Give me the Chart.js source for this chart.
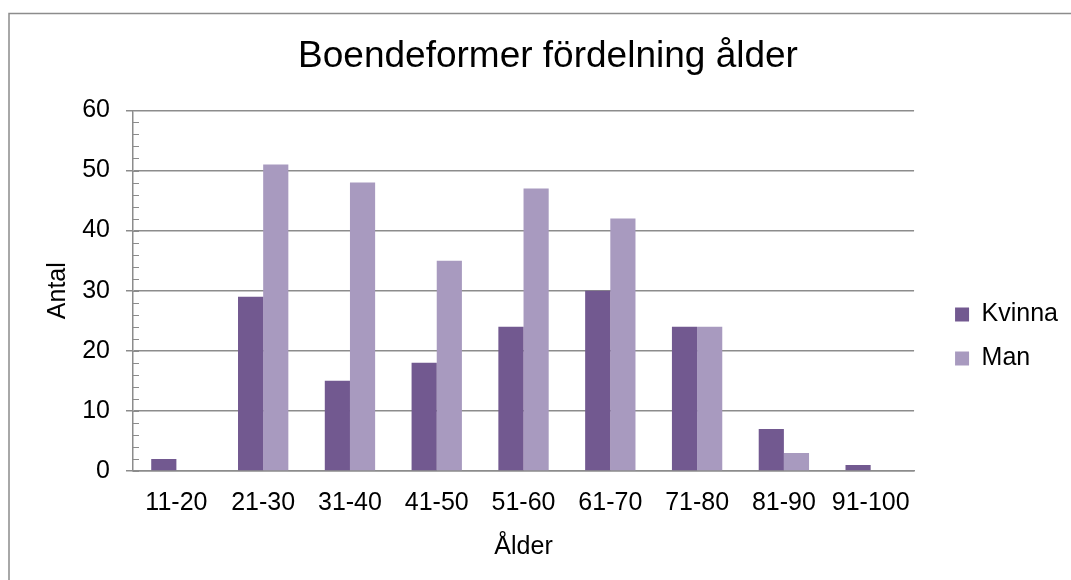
<!DOCTYPE html>
<html>
<head>
<meta charset="utf-8">
<script src="https://cdn.jsdelivr.net/npm/chart.js@4"></script>
<style>
  body { margin: 0; background: #fff; }
  canvas { display: block; }
</style>
</head>
<body>
<canvas id="chart" width="1071" height="580"></canvas>
<script>
// Chart data
const categories = ['11-20', '21-30', '31-40', '41-50', '51-60', '61-70', '71-80', '81-90', '91-100'];
const kvinna = [2, 29, 15, 18, 24, 30, 24, 7, 1];
const man = [0, 51, 48, 35, 47, 42, 24, 3, 0];

const FONT = "'Liberation Sans', Arial, sans-serif";

// outer frame like the Excel chart area
const framePlugin = {
  id: 'frame',
  beforeDraw(chart) {
    const c = chart.ctx;
    c.save();
    c.strokeStyle = '#8c8c8c';
    c.lineWidth = 1.5;
    c.strokeRect(9, 13.5, 1070, 600);
    c.restore();
  }
};

// minor tick marks on the value axis, every 2 units
const minorTicks = {
  id: 'minorTicks',
  afterDatasetsDraw(chart) {
    const y = chart.scales.y;
    const c = chart.ctx;
    const x0 = chart.chartArea.left;
    c.save();
    c.strokeStyle = '#8c8c8c';
    c.lineWidth = 1;
    for (let v = y.min; v <= y.max; v += 2) {
      const py = Math.round(y.getPixelForValue(v)) + 0.5;
      c.beginPath();
      c.moveTo(x0, py);
      c.lineTo(x0 + 6, py);
      c.stroke();
    }
    c.restore();
  }
};

// nudge legend and title to where Excel put them
const boxShift = {
  id: 'boxShift',
  afterLayout(chart) {
    const lg = chart.legend;
    lg.top += 29;
    lg.bottom += 29;
    lg.left += 22;
    lg.right += 22;
    const t = chart.titleBlock;
    t.left += 25;
    t.right += 25;
  }
};

new Chart(document.getElementById('chart'), {
  type: 'bar',
  data: {
    labels: categories,
    datasets: [
      {
        label: 'Kvinna',
        data: kvinna,
        backgroundColor: '#725990',
        categoryPercentage: 0.58,
        barPercentage: 1.0,
      },
      {
        label: 'Man',
        data: man,
        backgroundColor: '#a89abf',
        categoryPercentage: 0.58,
        barPercentage: 1.0,
      },
    ],
  },
  options: {
    responsive: false,
    animation: false,
    devicePixelRatio: 1,
    layout: {
      padding: { top: 35, left: 0, right: 25, bottom: 0 },
    },
    plugins: {
      title: {
        display: true,
        text: 'Boendeformer fördelning ålder',
        color: '#000',
        font: { family: FONT, size: 37, weight: 'normal' },
        padding: { top: 0, bottom: 31 },
      },
      legend: {
        position: 'right',
        labels: {
          color: '#000',
          font: { family: FONT, size: 25 },
          boxWidth: 14,
          boxHeight: 14,
          padding: 19,
        },
      },
      tooltip: { enabled: false },
    },
    scales: {
      x: {
        afterFit(scale) { scale.height = 109; },
        grid: { display: false, drawTicks: false },
        border: { color: '#8c8c8c', width: 1.5 },
        ticks: { color: '#000', font: { family: FONT, size: 25 }, padding: 17 },
        title: {
          display: true,
          text: 'Ålder',
          color: '#000',
          font: { family: FONT, size: 25 },
          padding: { top: 0, bottom: 18 },
        },
      },
      y: {
        afterFit(scale) { scale.width = 133; },
        min: 0,
        max: 60,
        ticks: { stepSize: 10, color: '#000', font: { family: FONT, size: 25 }, padding: 16 },
        grid: { color: '#8c8c8c', lineWidth: 1.5, tickLength: 7 },
        border: { color: '#8c8c8c', width: 1.5 },
        title: {
          display: true,
          text: 'Antal',
          color: '#000',
          font: { family: FONT, size: 25 },
          padding: { top: 43, bottom: 0 },
        },
      },
    },
  },
  plugins: [framePlugin, minorTicks, boxShift],
});
</script>
</body>
</html>
